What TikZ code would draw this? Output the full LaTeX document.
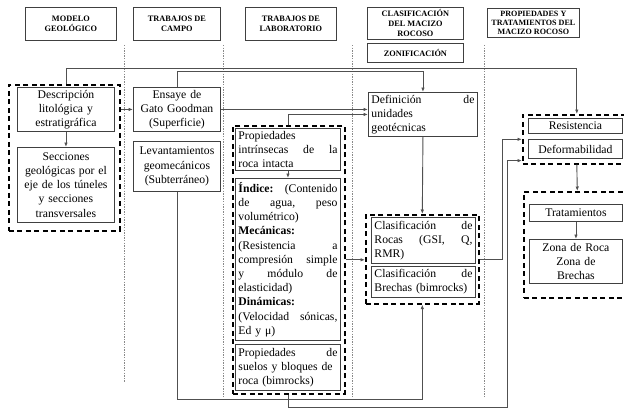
\documentclass[tikz,border=0pt]{standalone}
\usepackage{fontspec}
\setmainfont{Liberation Serif}
\usetikzlibrary{arrows.meta,calc}
\definecolor{bord}{HTML}{404040}
\definecolor{lnc}{HTML}{505050}
\definecolor{dotc}{HTML}{8A8A8A}
\begin{document}
\begin{tikzpicture}[x=1pt,y=-1pt,
  box/.style={draw=bord,line width=0.9pt,inner xsep=3pt,inner ysep=1pt,anchor=north west,
    font=\fontsize{11.7}{14.2}\selectfont},
  hdr/.style={draw=bord,line width=0.8pt,anchor=north west,inner sep=1pt,align=center,
    font=\fontsize{8.3}{10}\selectfont\bfseries},
  grp/.style={draw=black,line width=1.6pt,dash pattern=on 5pt off 3.5pt,anchor=north west,inner sep=0pt},
  conn/.style={draw=lnc,line width=0.9pt,-{Latex[length=4.5pt,width=3.5pt]}},
  guide/.style={draw=dotc,line width=0.7pt,dash pattern=on 1.3pt off 1.3pt}]
\useasboundingbox (0,0) rectangle (624,408);
\fill[white] (0,0) rectangle (624,408);
\clip (0,0) rectangle (624,408);

% guides
\draw[guide] (124,45) -- (124,382);
\draw[guide] (223,45) -- (223,397);
\draw[guide] (352,45) -- (352,397);
\draw[guide] (484,45) -- (484,397);

% headers
\node[hdr,minimum width=91,minimum height=33] (h1) at (25,7) {MODELO\\GEOLÓGICO};
\node[hdr,minimum width=87,minimum height=33] (h2) at (133,7) {TRABAJOS DE\\CAMPO};
\node[hdr,minimum width=91,minimum height=33] (h3) at (245,7) {TRABAJOS DE\\LABORATORIO};
\node[hdr,minimum width=96,minimum height=32] (h4) at (367,7) {CLASIFICACIÓN\\DEL MACIZO\\ROCOSO};
\node[hdr,minimum width=96,minimum height=19] (h5) at (367,43) {ZONIFICACIÓN};
\node[hdr,minimum width=92,minimum height=29,font=\fontsize{8.1}{9.4}\selectfont\bfseries] (h6) at (487,8) {PROPIEDADES Y\\TRATAMIENTOS DEL\\MACIZO ROCOSO};

% groups
\node[grp,minimum width=111,minimum height=146] (g1) at (8,84) {};
\node[grp,minimum width=112,minimum height=268] (g2) at (232,125) {};
\node[grp,minimum width=113,minimum height=89] (g3) at (365,214) {};
\node[grp,minimum width=108,minimum height=49] (g4) at (522,114) {};
\node[grp,minimum width=107,minimum height=106] (g5) at (523,191) {};

% boxes
\node[box,text width=91,minimum height=44,align=center] (desc) at (17,87) {Descripción\\litológica y\\estratigráfica};
\node[box,text width=91,minimum height=75,align=center] (secc) at (17,147) {Secciones\\geológicas por el\\eje de los túneles\\y secciones\\transversales};
\node[box,text width=81,minimum height=44,align=center] (ensaye) at (133,87) {Ensaye de\\Gato Goodman\\(Superficie)};
\node[box,text width=81,minimum height=50,align=center] (levant) at (133,141) {Levantamientos\\geomecánicos\\(Subterráneo)};
\node[box,text width=103,minimum height=44,align=left] (defin) at (368,92) {Definición \hfill de\\unidades\\geotécnicas};
\node[box,text width=99,minimum height=42,align=left] (pint) at (235,128) {Propiedades\\intrínsecas \hfill de \hfill la\\roca intacta};
\node[box,text width=99,minimum height=162,align=left] (indice) at (235,178) {\textbf{Índice:} \hfill (Contenido\\de \hfill agua, \hfill peso\\volumétrico)\\\textbf{Mecánicas:}\\(Resistencia \hfill a\\compresión \hfill simple\\y \hfill módulo \hfill de\\elasticidad)\\\textbf{Dinámicas:}\\(Velocidad \hfill sónicas,\\Ed y μ)};
\node[box,text width=99,minimum height=46,align=left] (psuelos) at (235,344) {Propiedades \hfill de\\suelos y bloques de\\roca (bimrocks)};
\node[box,text width=98,minimum height=46,align=left] (crocas) at (371,217) {Clasificación \hfill de\\Rocas \hfill (GSI, \hfill Q,\\RMR)};
\node[box,text width=98,minimum height=31,align=left] (cbrechas) at (371,266) {Clasificación \hfill de\\Brechas (bimrocks)};
\node[box,text width=88,minimum height=15,inner ysep=0pt,align=center] (resist) at (528,118) {Resistencia};
\node[box,text width=88,minimum height=19,align=center] (deform) at (528,139) {Deformabilidad};
\node[box,text width=87,minimum height=17,inner ysep=0pt,align=center] (trat) at (529,204) {Tratamientos};
\node[box,text width=87,minimum height=44,align=center] (zona) at (529,239) {Zona de Roca\\Zona de\\Brechas};

% connectors
\coordinate (b1) at (0,399);
\draw[conn] (g1.north -| desc.south) -- ++(0,-16) -| (g4.north);
\draw[conn] (ensaye.north) -- ++(0,-16) -| (defin.north);
\draw[conn] (desc.south) -- (secc.north);
\draw[conn] (g1.east |- ensaye.west) -- (ensaye.west);
\draw[conn] (ensaye.east) -- (ensaye.east -| defin.west);
\draw[conn] (g2.north -| pint.north) |- (defin.west);
\draw[conn] (pint.south) -- (indice.north);
\draw[conn] (defin.south) -- (g3.north);
\draw[conn] (g2.east) -- (g2.east -| g3.west);
\draw[conn] (levant.south) |- (g3.south |- b1) -- (g3.south);
\draw[conn] (g2.south) -- ++(0,13) -| ([xshift=-15pt,yshift=4pt]g4.south west) -- ([yshift=4pt]g4.south west);
\draw[conn] (g3.east) -- ++(23,0) |- (g4.west);
\draw[conn] (g4.south) -- (g5.north);
\draw[conn] (trat.south) -- (zona.north);
\end{tikzpicture}
\end{document}
